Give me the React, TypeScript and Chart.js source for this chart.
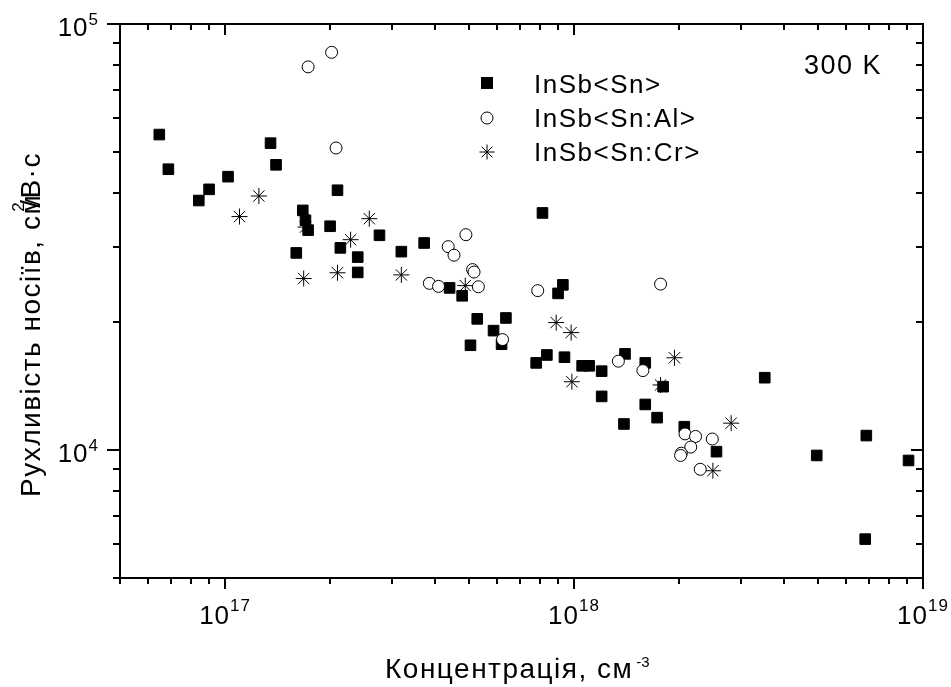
import React, { useEffect, useRef } from 'react';
import { Chart, registerables } from 'chart.js';

Chart.register(...registerables);

// ---- Data (concentration, cm^-3 ; mobility, cm^2/V·s) ----
const snX = [6.48e16, 6.88e16, 8.41e16, 9.0e16, 1.02e17, 1.35e17, 1.40e17, 1.67e17, 1.70e17, 1.73e17,
  2.0e17, 2.1e17, 1.60e17, 2.14e17, 2.40e17, 2.40e17, 2.77e17, 3.20e17, 3.72e17, 4.40e17,
  4.78e17, 5.28e17, 5.05e17, 5.88e17, 6.20e17, 6.38e17, 8.12e17, 9.29e17, 9.0e17, 7.79e17,
  8.36e17, 9.39e17, 1.055e18, 1.105e18, 1.20e18, 1.40e18, 1.60e18, 1.80e18, 1.20e18, 1.60e18,
  1.73e18, 1.39e18, 2.07e18, 2.56e18, 3.52e18, 6.88e18, 4.96e18, 9.09e18, 6.83e18];
const snY = [55000, 45600, 38500, 40900, 43800, 52500, 46700, 36500, 34600, 32800,
  33500, 40700, 29000, 29800, 28350, 26100, 31900, 29200, 30600, 24000,
  23000, 20300, 17600, 19050, 17700, 20400, 36000, 24400, 23300, 16000,
  16700, 16500, 15750, 15750, 15300, 16800, 16000, 14070, 13350, 12780,
  11900, 11500, 11330, 9900, 14770, 10800, 9700, 9440, 6170];

const alX = [2.02e17, 1.73e17, 2.08e17, 4.90e17, 4.36e17, 4.53e17, 5.12e17, 5.17e17, 3.85e17, 4.09e17,
  5.32e17, 7.87e17, 1.77e18, 6.24e17, 1.34e18, 1.575e18, 2.08e18, 2.23e18, 2.49e18, 2.16e18,
  2.03e18, 2.02e18, 2.30e18];
const alY = [85800, 79300, 51150, 32000, 30000, 28650, 26500, 26150, 24600, 24200,
  24150, 23650, 24500, 18150, 16150, 15350, 10900, 10750, 10600, 10150,
  9820, 9700, 9000];

const crX = [1.10e17, 1.25e17, 1.68e17, 1.70e17, 2.10e17, 2.29e17, 2.59e17, 3.20e17, 4.88e17, 8.89e17,
  9.81e17, 9.86e17, 1.94e18, 1.77e18, 2.82e18, 2.50e18];
const crY = [35300, 39450, 25250, 33350, 26050, 31150, 34900, 25750, 24300, 19900,
  18850, 14450, 16450, 14200, 11550, 8930];

const seriesNames = ['InSb<Sn>', 'InSb<Sn:Al>', 'InSb<Sn:Cr>'];

// ---- Axes ----
const xMin = 5e16;
const xMax = 1e19;
const yMin = 5000;
const yMax = 1e5;
const xMajorTicks = [1e17, 1e18, 1e19];
const xTickExps = ['17', '18', '19'];
const xMinorTicks = [5e16, 6e16, 7e16, 8e16, 9e16,
  2e17, 3e17, 4e17, 5e17, 6e17, 7e17, 8e17, 9e17,
  2e18, 3e18, 4e18, 5e18, 6e18, 7e18, 8e18, 9e18];
const yMajorTicks = [1e4, 1e5];
const yTickExps = ['4', '5'];
const yMinorTicks = [5000, 6000, 7000, 8000, 9000, 2e4, 3e4, 4e4, 5e4, 6e4, 7e4, 8e4, 9e4];

const xTitle = 'Концентрація, см';
const xTitleExp = '-3';
const yTitleMain = 'Рухливість носіїв, см';
const yTitleExp = '2';
const yTitleTail = '/В·с';
const tempLabel = '300 K';

const FONT = '"Liberation Sans", Arial, Helvetica, sans-serif';

function toPts(xs: number[], ys: number[]) {
  return xs.map((x, i) => ({ x, y: ys[i] }));
}

const framePlugin = {
  id: 'framePlugin',
  afterDraw(chart: any) {
    const { ctx, chartArea, scales } = chart;
    const { left, right, top, bottom } = chartArea;
    const xs = scales.x;
    const ys = scales.y;
    ctx.save();
    ctx.strokeStyle = '#000';
    ctx.fillStyle = '#000';
    ctx.lineWidth = 2;
    ctx.strokeRect(left, top, right - left, bottom - top);

    ctx.beginPath();
    for (const v of xMajorTicks) {
      const p = Math.round(xs.getPixelForValue(v));
      ctx.moveTo(p, bottom); ctx.lineTo(p, bottom + 11);
      ctx.moveTo(p, top); ctx.lineTo(p, top + 11);
    }
    for (const v of xMinorTicks) {
      const p = Math.round(xs.getPixelForValue(v));
      ctx.moveTo(p, bottom); ctx.lineTo(p, bottom + 6);
      ctx.moveTo(p, top); ctx.lineTo(p, top + 6);
    }
    for (const v of yMajorTicks) {
      const p = Math.round(ys.getPixelForValue(v));
      ctx.moveTo(left - 13, p); ctx.lineTo(left, p);
      ctx.moveTo(right, p); ctx.lineTo(right - 12, p);
    }
    for (const v of yMinorTicks) {
      const p = Math.round(ys.getPixelForValue(v));
      ctx.moveTo(left - 7, p); ctx.lineTo(left, p);
      ctx.moveTo(right, p); ctx.lineTo(right - 7, p);
    }
    ctx.stroke();

    const baseFont = `26px ${FONT}`;
    const expFont = `17px ${FONT}`;
    ctx.textBaseline = 'alphabetic';
    ctx.textAlign = 'left';
    (ctx as any).letterSpacing = '1px';

    // x tick labels
    xMajorTicks.forEach((v, i) => {
      const p = xs.getPixelForValue(v);
      ctx.font = baseFont;
      const bw = ctx.measureText('10').width;
      ctx.font = expFont;
      const ew = ctx.measureText(xTickExps[i]).width;
      const start = p - (bw + ew) / 2;
      ctx.font = baseFont;
      ctx.fillText('10', start, 624);
      ctx.font = expFont;
      ctx.fillText(xTickExps[i], start + bw, 611);
    });

    // y tick labels
    yMajorTicks.forEach((v, i) => {
      const p = ys.getPixelForValue(v);
      ctx.font = expFont;
      const ew = ctx.measureText(yTickExps[i]).width;
      ctx.font = baseFont;
      const bw = ctx.measureText('10').width;
      const endX = 99;
      ctx.fillText('10', endX - ew - bw, p + 12);
      ctx.font = expFont;
      ctx.fillText(yTickExps[i], endX - ew, p + 1);
    });

    // x title
    (ctx as any).letterSpacing = '1.5px';
    ctx.font = `28px ${FONT}`;
    ctx.fillText(xTitle, 385, 678);
    const xtw = ctx.measureText(xTitle).width;
    ctx.font = `15px ${FONT}`;
    (ctx as any).letterSpacing = '0px';
    ctx.fillText(xTitleExp, 385 + xtw + 3, 667);

    // y title (rotated)
    ctx.save();
    ctx.translate(40, 497);
    ctx.rotate(-Math.PI / 2);
    (ctx as any).letterSpacing = '1.5px';
    ctx.font = `28px ${FONT}`;
    ctx.fillText(yTitleMain, 0, 0);
    const mw = ctx.measureText(yTitleMain).width;
    const backX = mw - 14;
    ctx.font = `17px ${FONT}`;
    ctx.fillText(yTitleExp, backX - 4, -16);
    ctx.font = `28px ${FONT}`;
    ctx.fillText(yTitleTail, backX, 0);
    ctx.restore();

    // temperature label
    (ctx as any).letterSpacing = '1.5px';
    ctx.font = `27px ${FONT}`;
    ctx.fillText(tempLabel, 804, 74);

    // legend
    const lx = 487;
    const rows = [83, 118, 152];
    const tBase = [93, 127, 161];
    ctx.font = `26px ${FONT}`;
    seriesNames.forEach((name, i) => {
      ctx.fillText(name, 534, tBase[i]);
    });
    ctx.lineWidth = 1;
    // square
    ctx.fillRect(lx - 6, rows[0] - 6, 12, 12);
    // circle
    ctx.beginPath();
    ctx.arc(lx, rows[1], 6, 0, Math.PI * 2);
    ctx.fillStyle = '#fff';
    ctx.fill();
    ctx.stroke();
    // star
    const r = 7.5;
    const d = r * Math.SQRT1_2;
    ctx.beginPath();
    ctx.moveTo(lx - r, rows[2]); ctx.lineTo(lx + r, rows[2]);
    ctx.moveTo(lx, rows[2] - r); ctx.lineTo(lx, rows[2] + r);
    ctx.moveTo(lx - d, rows[2] - d); ctx.lineTo(lx + d, rows[2] + d);
    ctx.moveTo(lx - d, rows[2] + d); ctx.lineTo(lx + d, rows[2] - d);
    ctx.stroke();

    ctx.restore();
  },
};

export default function App() {
  const canvasRef = useRef<HTMLCanvasElement | null>(null);

  useEffect(() => {
    const canvas = canvasRef.current;
    if (!canvas) return;
    const chart = new Chart(canvas, {
      type: 'scatter',
      data: {
        datasets: [
          {
            label: seriesNames[1],
            data: toPts(alX, alY),
            pointStyle: 'circle',
            pointRadius: 6,
            pointBorderWidth: 1,
            pointBorderColor: '#000',
            pointBackgroundColor: '#fff',
            order: 0,
          },
          {
            label: seriesNames[0],
            data: toPts(snX, snY),
            pointStyle: 'rect',
            pointRadius: 7.5,
            pointBorderWidth: 1,
            pointBorderColor: '#000',
            pointBackgroundColor: '#000',
            order: 1,
          },
          {
            label: seriesNames[2],
            data: toPts(crX, crY),
            pointStyle: 'star',
            pointRadius: 8,
            pointBorderWidth: 1,
            pointBorderColor: '#000',
            pointBackgroundColor: '#000',
            order: 2,
          },
        ],
      },
      options: {
        animation: false,
        responsive: false,
        devicePixelRatio: 1,
        layout: { padding: { left: 120, right: 28, top: 24, bottom: 109 } },
        scales: {
          x: { type: 'logarithmic', min: xMin, max: xMax, display: false },
          y: { type: 'logarithmic', min: yMin, max: yMax, display: false },
        },
        plugins: {
          legend: { display: false },
          tooltip: { enabled: false },
        },
      },
      plugins: [framePlugin],
    } as any);
    return () => chart.destroy();
  }, []);

  return (
    <div style={{ position: 'fixed', left: 0, top: 0, width: 951, height: 687, background: '#fff' }}>
      <canvas ref={canvasRef} width={951} height={687} style={{ display: 'block' }} />
    </div>
  );
}
